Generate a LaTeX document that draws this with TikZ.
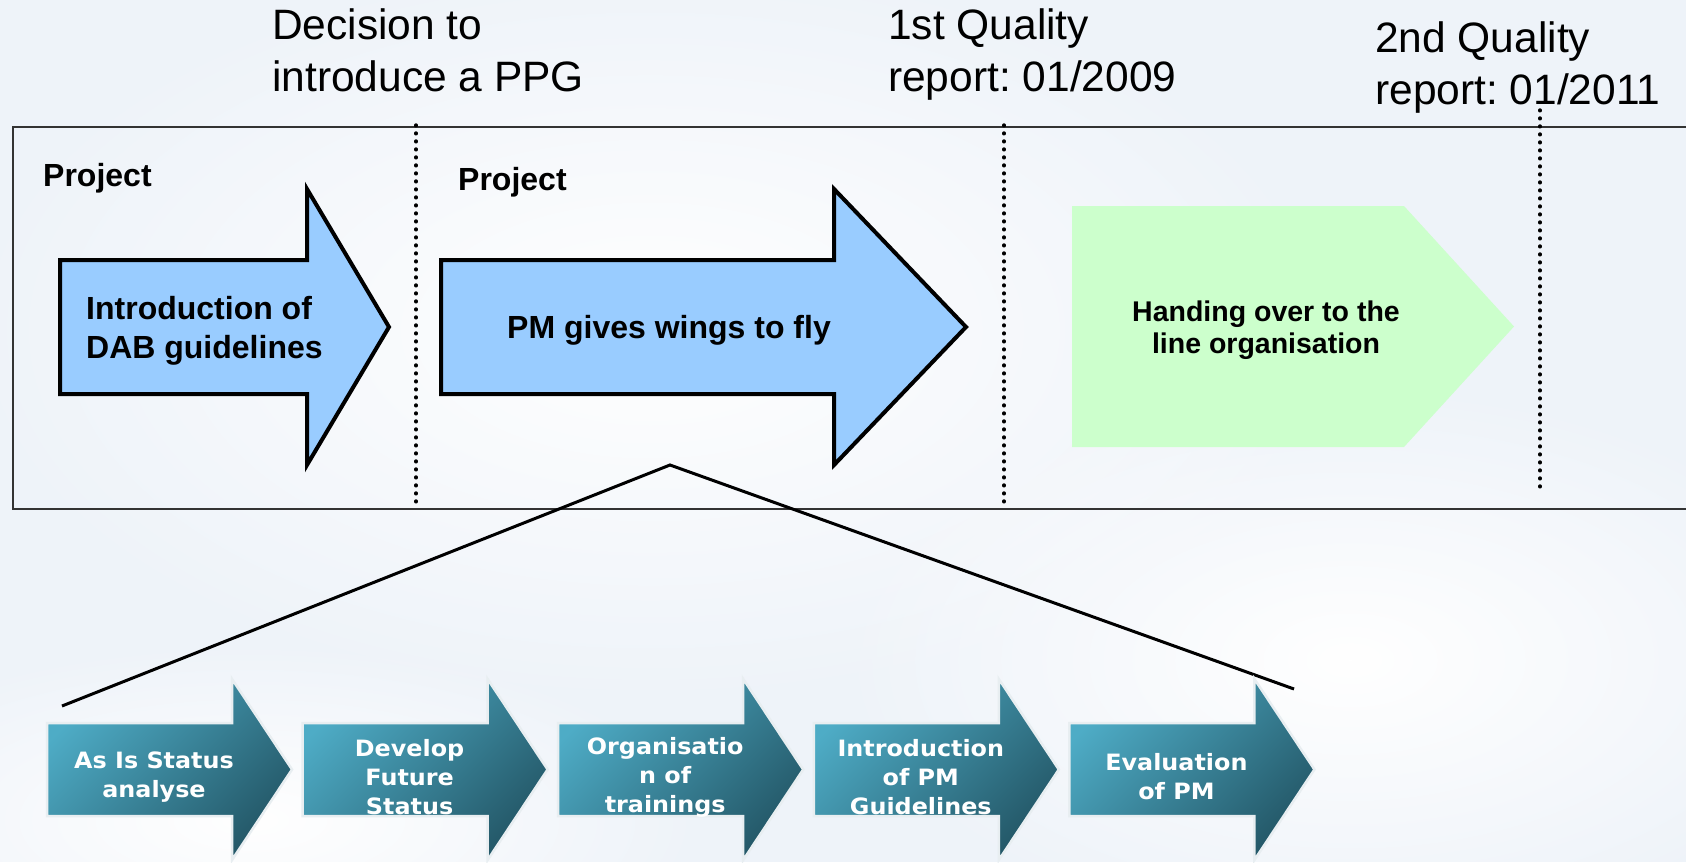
\documentclass[tikz,border=0pt]{standalone}
\usepackage{fontspec}
\setmainfont{Liberation Sans}
\newfontfamily\stepfont[FakeStretch=1.06]{DejaVu Sans}
\usetikzlibrary{fadings}
\frenchspacing

\definecolor{bgsky}{RGB}{238,243,249}
\definecolor{phaseblue}{RGB}{153,204,255}
\definecolor{handgreen}{RGB}{204,255,204}
\definecolor{steplight}{RGB}{78,172,198}
\definecolor{stepdark}{RGB}{36,88,104}
\definecolor{stepedge}{RGB}{232,238,241}

% soft radial falloff for the sky clouds
\tikzfading[name=softblob, inner color=transparent!0, outer color=transparent!100]

% outline of one small process chevron, #1 = left edge
\newcommand\stepoutline[1]{(#1,723) -- (#1+185,723) -- (#1+185,679) -- (#1+245,769.5) -- (#1+185,860) -- (#1+185,816) -- (#1,816) -- cycle}

\begin{document}
\begin{tikzpicture}[x=1pt,y=-1pt,
  frameline/.style={draw=black!80, line width=2.2pt},
  milestone/.style={line width=3.4pt, dash pattern=on 0.8pt off 7.2pt, line cap=round},
  phasearrow/.style={fill=phaseblue, draw=black, line width=4pt, line join=miter},
  connector/.style={draw=black, line width=3pt},
  toptext/.style={inner sep=0pt, anchor=north west, align=left, font=\fontsize{42.5}{52}\selectfont},
  projlabel/.style={inner sep=0pt, anchor=base west, font=\bfseries\fontsize{32}{38}\selectfont},
  phasetext/.style={inner sep=0pt, font=\bfseries\fontsize{32}{39}\selectfont},
  handtext/.style={inner sep=0pt, anchor=north, align=center, font=\bfseries\fontsize{28.5}{32}\selectfont},
  stepshape/.style={draw=stepedge, line width=2.5pt, top color=steplight, bottom color=stepdark, shading angle=45},
  steptext/.style={inner sep=0pt, text=white, align=center, font=\stepfont\bfseries\fontsize{22.5}{29}\selectfont},
  cloud/.style={fill=white, path fading=softblob}
]
\useasboundingbox (0,0) rectangle (1686,862);
\clip (0,0) rectangle (1686,862);
\fill[bgsky] (0,0) rectangle (1686,862);
% soft sky clouds
\fill[cloud] (650,330) ellipse (700 and 380);
\fill[cloud] (1350,660) ellipse (520 and 280);
\fill[cloud] (250,820) ellipse (460 and 180);

% milestone captions
\node[toptext] (decision) at (272,6) {\rule{0pt}{33pt}Decision to\\introduce a PPG};
\node[toptext] (quality1) at (888,6) {\rule{0pt}{33pt}1st Quality\\report: 01/2009};
\node[toptext] (quality2) at (1375,19) {\rule{0pt}{33pt}2nd Quality\\report: 01/2011};

% timeline frame and milestone markers
\draw[frameline] (13,127) rectangle (1720,509);
\draw[milestone] (416,125) -- (416,508);
\draw[milestone] (1004,125) -- (1004,508);
\draw[milestone] (1540,110) -- (1540,493);

% project phases
\node[projlabel] (proj1) at (43,186) {Project};
\node[projlabel] (proj2) at (458,190) {Project};

\draw[phasearrow] (60,260) -- (307,260) -- (307,189) -- (389,327) -- (307,465) -- (307,394) -- (60,394) -- cycle;
\node[phasetext, anchor=north west, align=left] (dab) at (86,293) {\rule{0pt}{26pt}Introduction of\\DAB guidelines};

\draw[phasearrow] (441,260) -- (834,260) -- (834,189) -- (966,327) -- (834,465) -- (834,394) -- (441,394) -- cycle;
\node[phasetext, anchor=base] (wings) at (669,338) {PM gives wings to fly};

\fill[handgreen] (1072,206) -- (1404,206) -- (1514,326.5) -- (1404,447) -- (1072,447) -- cycle;
\node[handtext] (handover) at (1266,299) {\rule{0pt}{22pt}Handing over to the\\line organisation};

% zoom lines from the second phase to its steps
\coordinate (zoomapex) at (670,465);
\coordinate (zoomleft) at (62,706);
\coordinate (zoomright) at (1294,689);
\draw[connector, line join=miter] (zoomleft) -- (zoomapex) -- (zoomright);

% process steps
\foreach \i/\label in {0/{As Is Status\\analyse},
                       1/{Develop\\Future\\Status},
                       2/{Organisatio\\n of\\trainings},
                       3/{Introduction\\of PM\\Guidelines},
                       4/{Evaluation\\of PM}}{
  \pgfmathsetmacro\L{47+255.6*\i}
  \path[stepshape] \stepoutline{\L};
  \begin{scope}
    \clip \stepoutline{\L};
    \node[steptext] (step\i) at (\L+107,777) {\label};
  \end{scope}
}
\end{tikzpicture}
\end{document}
